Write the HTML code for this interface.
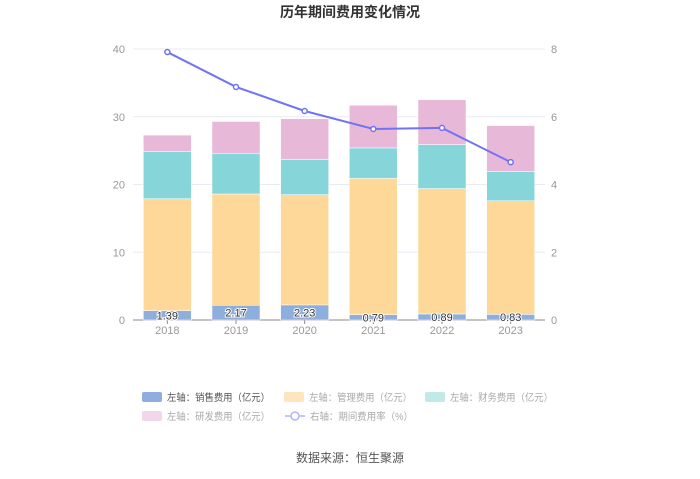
<!DOCTYPE html>
<html><head><meta charset="utf-8"><style>
body{margin:0;background:#fff;width:700px;height:474px;overflow:hidden;font-family:"Liberation Sans","Noto Sans CJK SC",sans-serif}
</style></head><body>
<svg id="c" width="700" height="474" xmlns="http://www.w3.org/2000/svg">
<text x="350" y="17" text-anchor="middle" font-size="14" font-weight="bold" fill="#333">历年期间费用变化情况</text>
<g id="grid"></g><g id="bars"></g><g id="line"></g><g id="legend"></g>
<text x="350" y="462" text-anchor="middle" font-size="12" fill="#555">数据来源：恒生聚源</text>
</svg>
<script>
const categories=["2018","2019","2020","2021","2022","2023"];
const sales=[1.39,2.17,2.23,0.79,0.89,0.83];
const mgmt=[16.5,16.43,16.27,20.11,18.51,16.77];
const finance=[7.0,6.0,5.2,4.5,6.5,4.3];
const rnd=[2.4,4.7,6.0,6.3,6.6,6.8];
const rate=[7.91,6.88,6.17,5.64,5.67,4.66];
const leftTicks=[0,10,20,30,40];
const rightTicks=[0,2,4,6,8];
const NS="http://www.w3.org/2000/svg";
const x0=133,x1=545,yb=320,yt=49;
const yL=v=>yb-(v/40)*(yb-yt);
const yR=v=>yb-(v/8)*(yb-yt);
const bw=(x1-x0)/categories.length;
const xc=i=>x0+bw*(i+0.5);
function mk(t,a,p){const e=document.createElementNS(NS,t);for(const k in a)e.setAttribute(k,a[k]);p.appendChild(e);return e;}
const g=document.getElementById('grid');
leftTicks.forEach((v,i)=>{
 const l=mk('line',{x1:x0,x2:x1,y1:yL(v),y2:yL(v),stroke:v===0?'#888':'#e8ebf2','stroke-width':1},g);
 
 
 const t=mk('text',{x:x0-8,y:yL(v)+4,'text-anchor':'end','font-size':11,fill:'#999'},g);t.textContent=v;
 
 
 const r=mk('text',{x:x1+6,y:yR(rightTicks[i])+4,'font-size':11,fill:'#999'},g);r.textContent=rightTicks[i];
 
 
});
categories.forEach((c,i)=>{
 const t=mk('text',{x:xc(i),y:334,'text-anchor':'middle','font-size':11,fill:'#999'},g);t.textContent=c;
 
 
 const tk=mk('line',{x1:xc(i),x2:xc(i),y1:yb,y2:yb+4,stroke:'#888'},g);
 
 
});
const b=document.getElementById('bars');
const series=[[sales,'#8eaedd','sales'],[mgmt,'#fed899','mgmt'],[finance,'#86d6d9','finance'],[rnd,'#e7b8d8','rnd']];
categories.forEach((c,i)=>{
 let acc=0;
 series.forEach(s=>{
  const v=s[0][i];
  const r=mk('rect',{x:xc(i)-24,y:yL(acc+v),width:48,height:yL(acc)-yL(acc+v),fill:s[1],stroke:'#fff','stroke-width':0.5},b);
  
  
  acc+=v;
 });
 const t=mk('text',{x:xc(i),y:yL(sales[i]/2)+4,'text-anchor':'middle','font-size':11,fill:'#333',stroke:'#fff','stroke-width':2,'paint-order':'stroke'},b);
 t.textContent=sales[i].toFixed(2);
 
 
});
const ln=document.getElementById('line');
const p=mk('polyline',{points:rate.map((v,i)=>xc(i)+','+yR(v)).join(' '),fill:'none',stroke:'#7173f5','stroke-width':2},ln);


rate.forEach((v,i)=>{
 const d=mk('circle',{cx:xc(i),cy:yR(v),r:2.5,fill:'#fff',stroke:'#7173f5','stroke-width':1.5},ln);
 
 
});
const lg=document.getElementById('legend');
const items=[[142,397,'#8eaedd','左轴：销售费用（亿元）','#555'],[284,397,'#fee5bd','左轴：管理费用（亿元）','#aaa'],[425,397,'#c0e9ea','左轴：财务费用（亿元）','#aaa'],[142,416,'#f2d7ea','左轴：研发费用（亿元）','#aaa']];
items.forEach(it=>{
 const r=mk('rect',{x:it[0],y:it[1]-5,width:20,height:10,rx:2,fill:it[2]},lg);
 
 
 const t=mk('text',{x:it[0]+25,y:it[1]+4,'font-size':10,fill:it[4],textLength:103,lengthAdjust:'spacingAndGlyphs'},lg);t.textContent=it[3];
 
 
});
const ll=mk('line',{x1:285,x2:305,y1:416,y2:416,stroke:'#b3b4f8','stroke-width':1.5},lg);


const lc=mk('circle',{cx:295,cy:416,r:4,fill:'#fff',stroke:'#b3b4f8','stroke-width':1.5},lg);


const lt=mk('text',{x:310,y:420,'font-size':10,fill:'#aaa',textLength:103,lengthAdjust:'spacingAndGlyphs'},lg);lt.textContent='右轴：期间费用率（%）';


</script>
</body></html>
